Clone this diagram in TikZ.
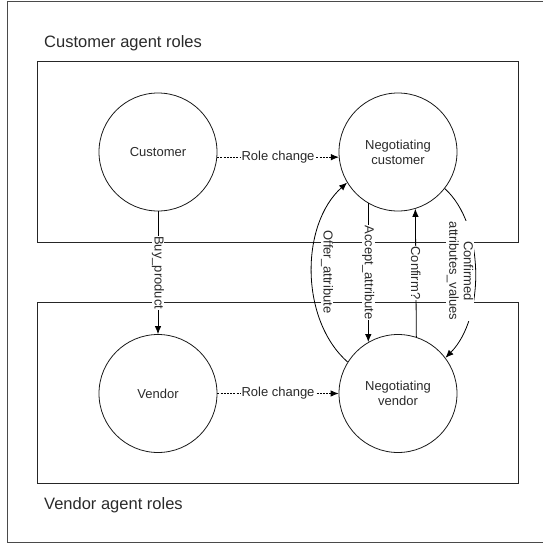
\documentclass[tikz,border=0pt]{standalone}
\usepackage{fontspec}
\setmainfont{Liberation Sans}
\usetikzlibrary{arrows.meta}
\definecolor{txt}{HTML}{2A2A2A}
\definecolor{frame}{HTML}{4A4A4A}
\tikzset{
  role/.style={circle, draw=black!90, line width=0.8pt, minimum size=118pt, inner sep=0pt, align=center, text=txt, font=\fontsize{13}{15}\selectfont},
  rolebox/.style={draw=black!85, line width=0.9pt},
  arr/.style={line width=0.8pt, -{Latex[length=8pt,width=6.5pt]}},
  dasharr/.style={arr, dash pattern=on 2pt off 1.2pt},
  lbl/.style={fill=white, inner sep=0.4pt, text=txt, font=\fontsize{13}{14.5}\selectfont},
  vlbl/.style={lbl, rotate=-90},
  title/.style={anchor=west, inner sep=0pt, text=txt, font=\fontsize{16.5}{19}\selectfont}
}
\begin{document}
\begin{tikzpicture}[x=1pt,y=-1pt]
\useasboundingbox (0,0) rectangle (542,544);
% outer frame (right side beyond the picture)
\draw[frame, line width=1.4pt] (548,1.6) -- (7.3,1.6) -- (7.3,542.6) -- (548,542.6);
% role group boxes
\draw[rolebox] (37.3,61.7) rectangle (518.7,242.3);
\draw[rolebox] (37.3,302.7) rectangle (518.7,483);
\node[title] (ctitle) at (44,43) {Customer agent roles};
\node[title] (vtitle) at (44,505.5) {Vendor agent roles};
% roles
\node[role] (cust) at (158,152) {Customer};
\node[role] (nc) at (398,152) {Negotiating\\customer};
\node[role] (vend) at (158,393.5) {Vendor};
\node[role] (nv) at (398,393.5) {Negotiating\\vendor};
% role changes
\draw[dasharr] (cust.-5.7) -- node[lbl] {Role change} (nc.185.7);
\draw[dasharr] (vend.east) -- node[lbl] {Role change} (nv.west);
% buy product
\draw[arr] (cust.south) -- node[vlbl] {Buy\_product} (vend.north);
% negotiation messages
\draw[arr] (nv.148.6) .. controls (300,320) and (300,225) .. (nc.211.4);
\node[vlbl] (offer) at (327,272) {Offer\_attribute};
\draw[arr] (nc.240) -- node[vlbl] {Accept\_attribute} (nv.120);
\draw[arr] (nv.72.5) -- node[vlbl] {Confirm?} (nc.287.5);
\draw[arr] (nc.322.3) .. controls (485,225) and (485,318) .. (nv.37.4);
\node[vlbl, align=center] (conf) at (460,271) {Confirmed\\attributes\_values};
\end{tikzpicture}
\end{document}
